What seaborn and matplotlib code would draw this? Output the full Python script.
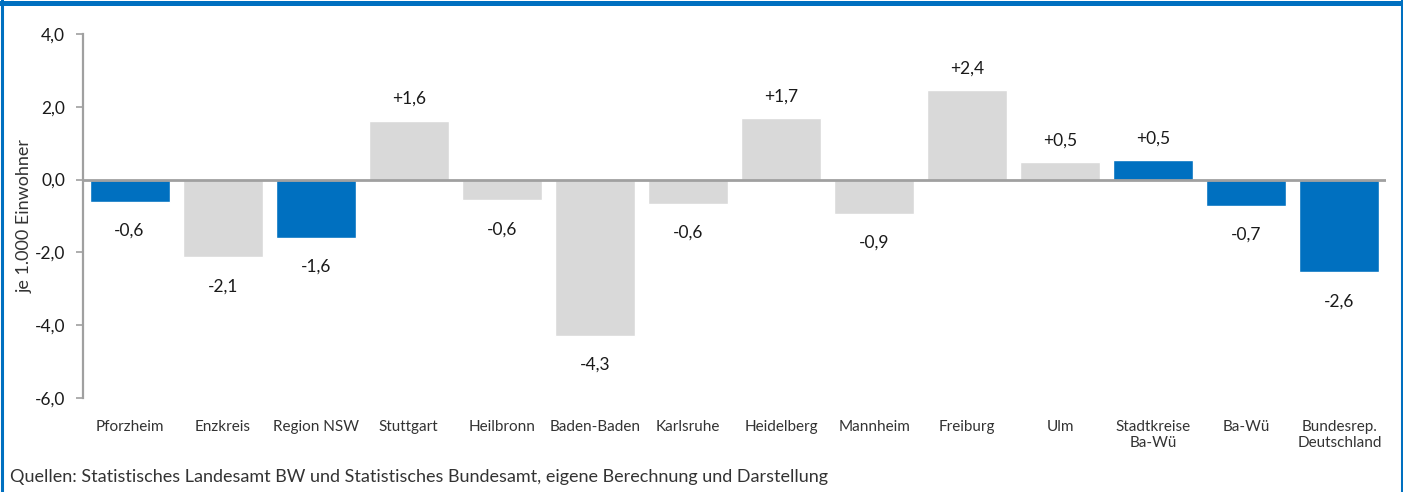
import pandas as pd
import matplotlib
matplotlib.use("Agg")
import matplotlib.pyplot as plt
from matplotlib.ticker import FuncFormatter
from matplotlib.lines import Line2D
import seaborn as sns

# Values per 1.000 inhabitants
categories = ["Pforzheim", "Enzkreis", "Region NSW", "Stuttgart", "Heilbronn",
              "Baden-Baden", "Karlsruhe", "Heidelberg", "Mannheim", "Freiburg",
              "Ulm", "Stadtkreise\nBa-Wü", "Ba-Wü", "Bundesrep.\nDeutschland"]
values = [-0.62, -2.14, -1.6, 1.62, -0.57, -4.3, -0.66, 1.68, -0.94, 2.45,
          0.48, 0.53, -0.72, -2.55]
value_labels = ["-0,6", "-2,1", "-1,6", "+1,6", "-0,6", "-4,3", "-0,6", "+1,7",
                "-0,9", "+2,4", "+0,5", "+0,5", "-0,7", "-2,6"]
highlight = [True, False, True, False, False, False, False, False, False, False,
             False, True, True, True]

BLUE = "#0070C0"
GREY = "#D9D9D9"
AXIS = "#A0A0A0"

df = pd.DataFrame({"cat": categories, "val": values,
                   "grp": ["hl" if h else "other" for h in highlight]})

sns.set_style("white")
plt.rcParams["font.family"] = ["Lato", "DejaVu Sans"]

fig = plt.figure(figsize=(14.03, 4.92), dpi=100)
ax = fig.add_axes([83 / 1403, 94 / 492, (1386 - 83) / 1403, (398 - 34) / 492])

sns.barplot(data=df, x="cat", y="val", hue="grp", palette={"hl": BLUE, "other": GREY},
            dodge=False, legend=False, width=0.86, ax=ax, saturation=1)

ax.set_xlim(-0.5, len(categories) - 0.5)
ax.set_ylim(-6, 4)
ax.set_yticks([-6, -4, -2, 0, 2, 4])
ax.yaxis.set_major_formatter(FuncFormatter(lambda v, p: f"{v:.1f}".replace(".", ",")))
ax.axhline(0, color=AXIS, lw=2, zorder=3)

for s in ["top", "right", "bottom"]:
    ax.spines[s].set_visible(False)
ax.spines["left"].set_color(AXIS)
ax.spines["left"].set_linewidth(1.6)
ax.tick_params(axis="y", left=True, length=5, width=1.2, color=AXIS,
               labelsize=12.5, labelcolor="#1a1a1a", pad=8)
ax.tick_params(axis="x", bottom=False, labelsize=11, labelcolor="#333333", pad=12)
ax.set_xlabel("")
ax.set_ylabel("je 1.000 Einwohner", fontsize=13, color="#333333", labelpad=1)

for i, (v, lab) in enumerate(zip(values, value_labels)):
    if v >= 0:
        ax.annotate(lab, (i, v), xytext=(0, 10), textcoords="offset points",
                    ha="center", va="bottom", fontsize=12.5, color="#1a1a1a")
    else:
        ax.annotate(lab, (i, v), xytext=(0, -15), textcoords="offset points",
                    ha="center", va="top", fontsize=12.5, color="#1a1a1a")

fig.text(10 / 1403, 1 - 477 / 492, "Quellen: Statistisches Landesamt BW und Statistisches Bundesamt, "
         "eigene Berechnung und Darstellung", fontsize=13, color="#333333", va="center")

# blue frame
fig.add_artist(Line2D([0, 1], [1 - 2.5 / 492] * 2, color=BLUE, lw=3.6, transform=fig.transFigure))
fig.add_artist(Line2D([1.5 / 1403] * 2, [0, 1], color=BLUE, lw=2.2, transform=fig.transFigure))
fig.add_artist(Line2D([1 - 1.5 / 1403] * 2, [0, 1], color=BLUE, lw=2.2, transform=fig.transFigure))

fig.savefig("out.png", dpi=100)
